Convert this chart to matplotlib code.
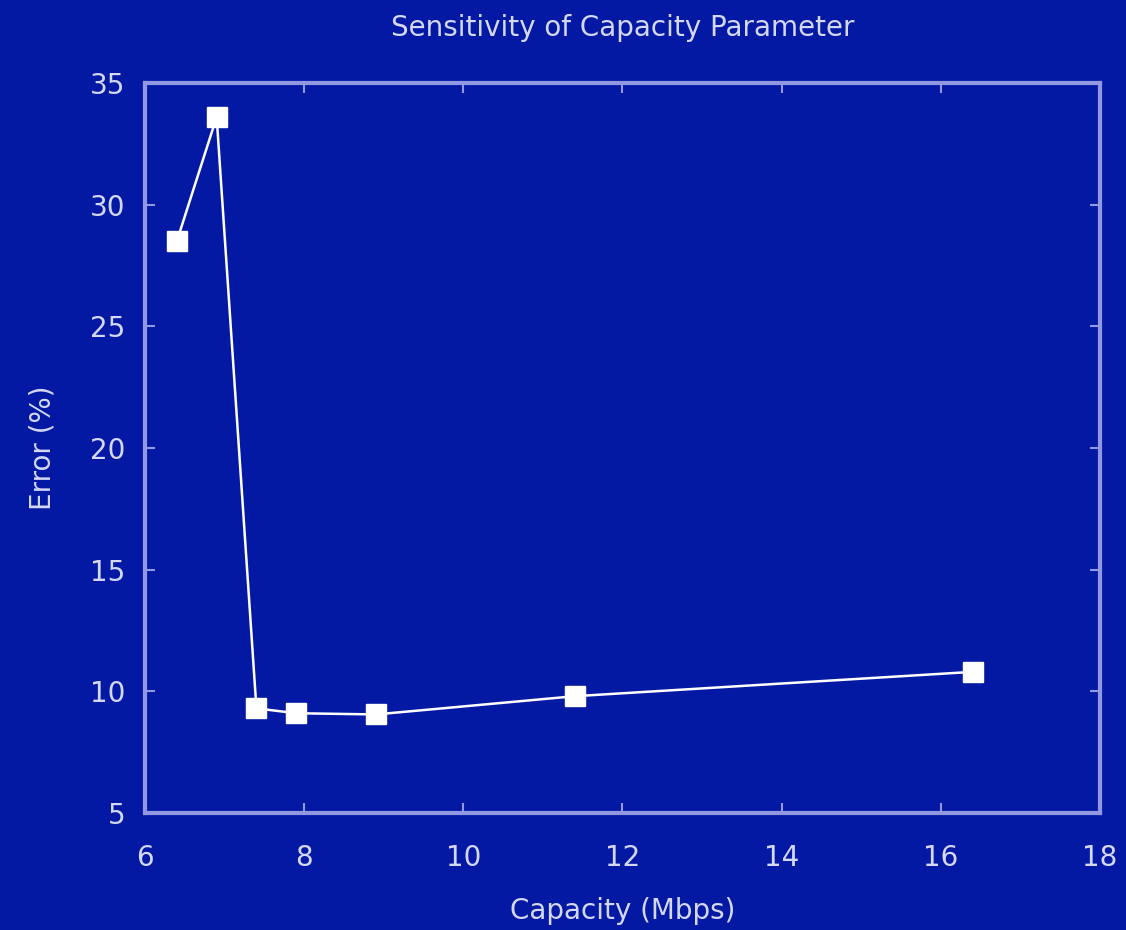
import matplotlib
matplotlib.use("Agg")
import matplotlib.pyplot as plt

capacity = [6.4, 6.9, 7.4, 7.9, 8.9, 11.4, 16.4]
error = [28.5, 33.6, 9.3, 9.1, 9.05, 9.8, 10.8]

bg = "#0419a3"
axis_col = "#8f98e0"
text_col = "#d4d8f4"

fig = plt.figure(figsize=(11.26, 9.3), dpi=100, facecolor=bg)
ax = fig.add_axes([0.1288, 0.1258, 0.848, 0.785], facecolor=bg)

ax.plot(capacity, error, color="white", linewidth=1.8, marker="s",
        markersize=15, markerfacecolor="white", markeredgecolor="white")

ax.set_xlim(6, 18)
ax.set_ylim(5, 35)
ax.set_xticks(range(6, 19, 2))
ax.set_yticks(range(5, 36, 5))

for s in ax.spines.values():
    s.set_color(axis_col)
    s.set_linewidth(3)
ax.tick_params(direction="in", colors=axis_col, labelcolor=text_col,
               labelsize=20, length=7, width=1.5, top=True, right=True)
ax.tick_params(axis="x", pad=22)
ax.tick_params(axis="y", pad=14)

ax.set_title("Sensitivity of Capacity Parameter", color=text_col, fontsize=20, pad=34)
ax.set_xlabel("Capacity (Mbps)", color=text_col, fontsize=20, labelpad=18)
ax.set_ylabel("Error (%)", color=text_col, fontsize=20, labelpad=24)

fig.savefig("out.png", dpi=100, facecolor=bg)
